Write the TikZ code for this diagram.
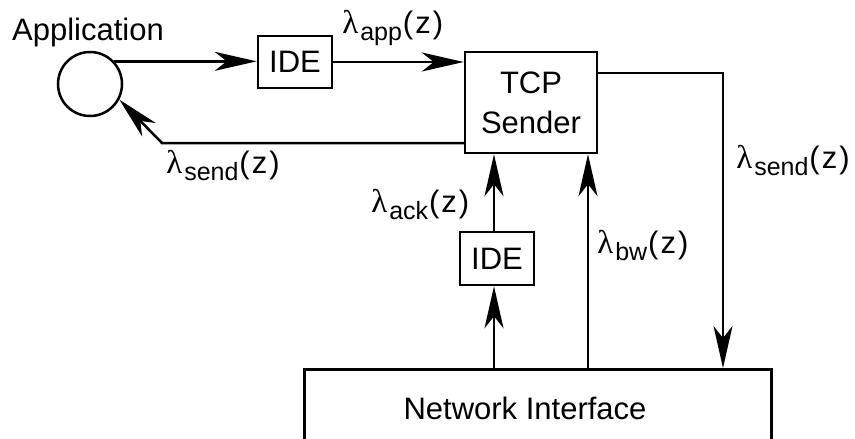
\documentclass[tikz,border=0pt]{standalone}
\usepackage{fontspec}
\setmainfont{Liberation Sans}
\newfontfamily\grk{Liberation Serif}
\usetikzlibrary{arrows.meta}
\newcommand\lam[1]{{\grk\fontsize{33}{33}\selectfont λ}\kern2pt\raisebox{-7pt}{\fontsize{25}{25}\selectfont #1}\kern1pt(\kern2pt z\kern2pt)}
\begin{document}
\begin{tikzpicture}[x=1pt,y=-1pt, line width=2.5pt,
  txt/.style={font=\fontsize{31}{40}\selectfont, inner sep=0pt},
  box/.style={draw, txt, inner sep=0pt},
  arr/.style={-{Stealth[length=42pt,width=19pt,inset=12pt]}},
  lbl/.style={txt, anchor=base west}]
\useasboundingbox (0,0) rectangle (855,439);
\clip (0,0) rectangle (855,439);
\node[draw, circle, minimum size=64pt, inner sep=0pt] (app) at (90,84) {};
\node[txt, anchor=base] (apptext) at (88,41) {Application};
\node[box, minimum width=74pt, minimum height=52pt] (ide1) at (295,62) {IDE};
\node[box, minimum width=132pt, minimum height=101pt, align=center] (tcp) at (531,102.5) {TCP\\Sender};
\node[box, minimum width=74pt, minimum height=53pt] (ide2) at (497,258.5) {IDE};
\node[draw, minimum width=467pt, minimum height=110pt, anchor=north west, inner sep=0pt] (ni) at (303,368) {};
\node[txt] (nitext) at (525,408) {Network Interface};
\draw[arr] (app.43) -- (app.43 -| ide1.west);
\draw[arr] (ide1.east) -- (ide1.east -| tcp.west);
\coordinate (c1) at (162,143);
\draw[arr] (tcp.west |- c1) -- (c1) -- (app.-28);
\coordinate (c2) at (723,73);
\draw[arr] (tcp.east |- c2) -- (c2) -- (c2 |- ni.north);
\coordinate (bw) at (588,0);
\draw[arr] (bw |- ni.north) -- (bw |- tcp.south);
\coordinate (ack) at (494,0);
\draw[arr] (ack |- ni.north) -- (ack |- ide2.south);
\draw[arr] (ack |- ide2.north) -- (ack |- tcp.south);
\node[lbl] (lapp) at (341,33) {\lam{app}};
\node[lbl] (lsendl) at (165,173) {\lam{send}};
\node[lbl] (lsendr) at (735,168) {\lam{send}};
\node[lbl] (lack) at (370,212) {\lam{ack}};
\node[lbl] (lbw) at (596,253) {\lam{bw}};
\end{tikzpicture}
\end{document}
